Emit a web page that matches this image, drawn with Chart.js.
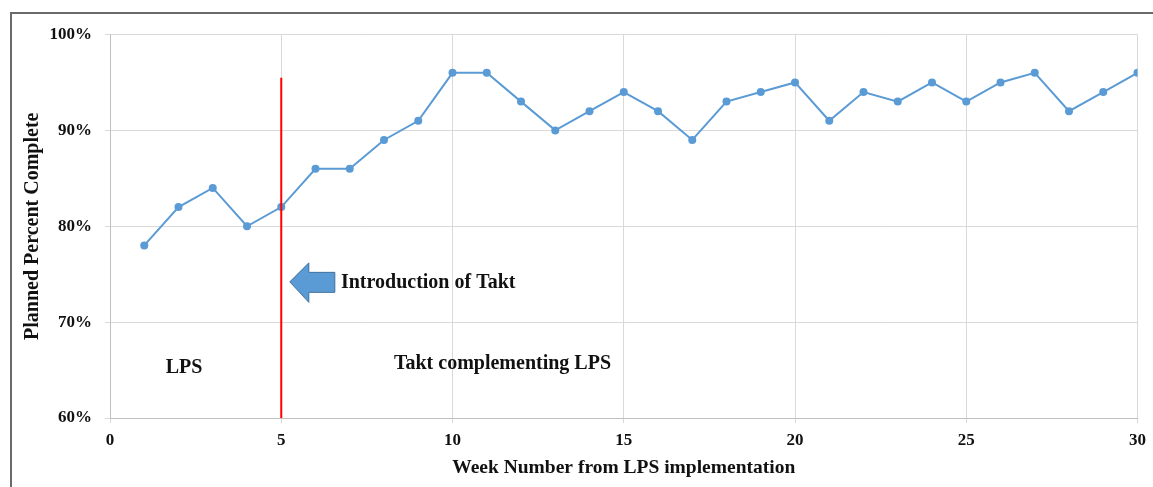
<!DOCTYPE html>
<html>
<head>
<meta charset="utf-8">
<script src="https://cdn.jsdelivr.net/npm/chart.js@4.4.1/dist/chart.umd.min.js"></script>
<style>
  html, body { margin: 0; padding: 0; background: #fff; }
  #wrap { position: relative; width: 1153px; height: 487px; }
  #frame { position: absolute; left: 10px; top: 12px; right: 0; bottom: 0;
           border-top: 2px solid #6a6a6a; border-left: 2px solid #6a6a6a; pointer-events: none; }
  canvas { position: absolute; left: 0; top: 0; }
</style>
</head>
<body>
<div id="wrap">
  <canvas id="c" width="1153" height="487"></canvas>
  <div id="frame"></div>
</div>
<script>
// Weekly Planned Percent Complete (PPC) after LPS roll-out
const weeks = [1, 2, 3, 4, 5, 6, 7, 8, 9, 10, 11, 12, 13, 14, 15,
               16, 17, 18, 19, 20, 21, 22, 23, 24, 25, 26, 27, 28, 29, 30];
const ppc = [78, 82, 84, 80, 82, 86, 86, 89, 91, 96, 96, 93, 90, 92, 94,
             92, 89, 93, 94, 95, 91, 94, 93, 95, 93, 95, 96, 92, 94, 96];

// Week at which takt planning was introduced, and the marker's top
const taktWeek = 5;
const markerTop = 95.5;

const xTicks = [0, 5, 10, 15, 20, 25, 30];
const yTicks = [60, 70, 80, 90, 100];

const serif = '"Liberation Serif", "Times New Roman", serif';

// Phase labels and the arrow pointing at the takt marker
const notes = {
  id: 'notes',
  afterDatasetsDraw(chart) {
    const { ctx, scales: { x, y } } = chart;
    ctx.save();

    // block arrow pointing left at the marker line
    const tx = x.getPixelForValue(5.25), ty = y.getPixelForValue(74.2);
    ctx.beginPath();
    ctx.moveTo(tx, ty);
    ctx.lineTo(tx + 19, ty - 19);
    ctx.lineTo(tx + 19, ty - 9.5);
    ctx.lineTo(tx + 45, ty - 9.5);
    ctx.lineTo(tx + 45, ty + 10.5);
    ctx.lineTo(tx + 19, ty + 10.5);
    ctx.lineTo(tx + 19, ty + 20.5);
    ctx.closePath();
    ctx.fillStyle = '#5b9bd5';
    ctx.fill();
    ctx.lineWidth = 1;
    ctx.strokeStyle = '#41719c';
    ctx.stroke();

    ctx.fillStyle = '#111';
    ctx.font = 'bold 20px ' + serif;
    ctx.textAlign = 'center';
    ctx.textBaseline = 'middle';
    ctx.fillText('Introduction of Takt', x.getPixelForValue(9.29), y.getPixelForValue(74.1));
    ctx.fillText('LPS', x.getPixelForValue(2.16), y.getPixelForValue(65.2));
    ctx.fillText('Takt complementing LPS', x.getPixelForValue(11.46), y.getPixelForValue(65.6));
    ctx.restore();
  }
};

new Chart(document.getElementById('c'), {
  type: 'line',
  data: {
    datasets: [
      {
        label: 'PPC',
        data: weeks.map((w, i) => ({ x: w, y: ppc[i] })),
        borderColor: '#5b9bd5',
        backgroundColor: '#5b9bd5',
        borderWidth: 2,
        pointRadius: 4,
        pointHoverRadius: 4,
        pointBorderWidth: 0,
        tension: 0,
        order: 2
      },
      {
        label: 'Takt introduced',
        data: [{ x: taktWeek, y: 60 }, { x: taktWeek, y: markerTop }],
        borderColor: '#ff0000',
        borderWidth: 2,
        pointRadius: 0,
        order: 1
      }
    ]
  },
  options: {
    responsive: false,
    animation: false,
    layout: { padding: { top: 34.5, right: 14, left: 0, bottom: 0 } },
    plugins: { legend: { display: false }, tooltip: { enabled: false } },
    scales: {
      x: {
        type: 'linear',
        min: 0, max: 30,
        afterBuildTicks: s => { s.ticks = xTicks.map(v => ({ value: v })); },
        afterFit: s => { s.height = 69; },
        grid: { color: '#d9d9d9', lineWidth: 1, tickLength: 5, drawTicks: true },
        border: { color: '#bfbfbf', width: 1 },
        ticks: { color: '#111', font: { family: serif, size: 17, weight: 'bold' }, padding: 7, maxRotation: 0 },
        title: {
          display: true,
          text: 'Week Number from LPS implementation',
          color: '#111',
          font: { family: serif, size: 19.5, weight: 'bold' },
          padding: { top: 0, bottom: 7 }
        }
      },
      y: {
        min: 60, max: 100,
        afterBuildTicks: s => { s.ticks = yTicks.map(v => ({ value: v })); },
        afterFit: s => { s.width = 110; },
        grid: { color: '#d9d9d9', lineWidth: 1, tickLength: 5 },
        border: { color: '#bfbfbf', width: 1 },
        ticks: { color: '#111', font: { family: serif, size: 17, weight: 'bold' }, padding: 13,
                 callback: v => v + '%' },
        title: {
          display: true,
          text: 'Planned Percent Complete',
          color: '#111',
          font: { family: serif, size: 20, weight: 'bold' },
          padding: { top: 21, bottom: 0 }
        }
      }
    }
  },
  plugins: [notes]
});
</script>
</body>
</html>
